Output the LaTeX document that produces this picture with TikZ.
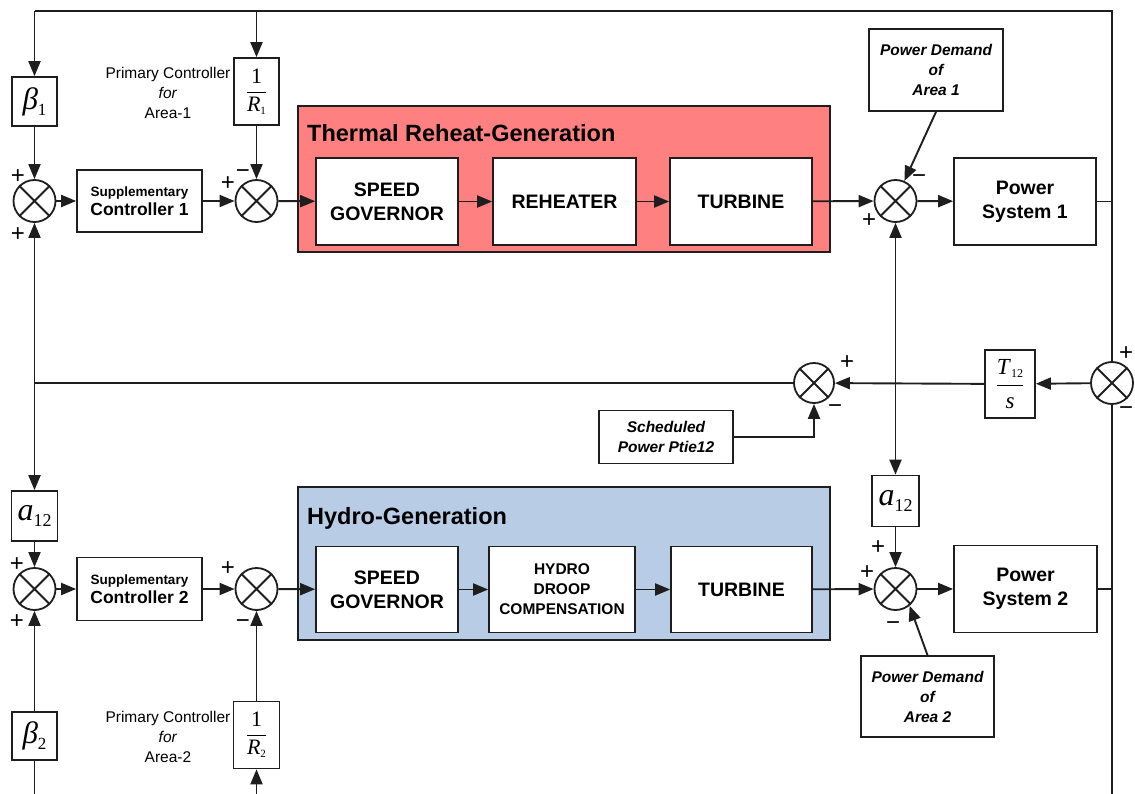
\documentclass[tikz,border=0pt]{standalone}
\usepackage{fontspec}
\setmainfont{Liberation Sans}
\newfontfamily\tms{Liberation Serif}
\usetikzlibrary{arrows.meta,calc}

\definecolor{thermalred}{RGB}{255,128,128}
\definecolor{hydroblue}{RGB}{184,204,230}
\definecolor{ink}{RGB}{30,30,30}

\tikzset{
  wire/.style={line width=1.9pt, draw=ink},
  arr/.style={wire, -{Triangle[length=15pt,width=12pt]}},
  biarr/.style={wire, {Triangle[length=15pt,width=12pt]}-{Triangle[length=15pt,width=12pt]}},
  panel/.style={draw=ink, line width=1.7pt},
  blk/.style={draw=ink, line width=1.7pt, fill=white, inner sep=1pt, align=center},
  gbox/.style={draw=ink, line width=1.7pt, fill=white, inner sep=0pt, align=center},
  sumj/.style={circle, draw=ink, line width=1.8pt, fill=white, minimum size=42pt, inner sep=0pt},
  sgn/.style={inner sep=0pt, font=\fontsize{24}{24}\selectfont},
  lbl/.style={align=center, inner sep=0pt, font=\fontsize{15.5}{20}\selectfont},
  big/.style={font=\bfseries\fontsize{19.5}{24}\selectfont},
  dem/.style={font=\bfseries\itshape\fontsize{15.5}{20}\selectfont},
  ttl/.style={anchor=west, inner sep=0pt, font=\bfseries\fontsize{23.5}{28}\selectfont},
}

\newcommand{\supctl}[1]{{\fontsize{13.5}{15}\selectfont Supplementary}\\[2pt]{\fontsize{17.5}{20}\selectfont Controller #1}}
\newcommand{\gainbeta}[1]{\tms\fontsize{31}{31}\selectfont\itshape β\/\lower6pt\hbox{\upshape\fontsize{17}{17}\selectfont #1}}
\newcommand{\gaina}{\tms\fontsize{32}{32}\selectfont\itshape a\/\lower6pt\hbox{\upshape\fontsize{18}{18}\selectfont 12}}
\newcommand{\droop}[1]{\tms\fontsize{22}{22}\selectfont$\displaystyle\frac{\hbox{\kern2pt 1\kern2pt}}{\hbox{\itshape R\/\lower3pt\hbox{\upshape\fontsize{11}{11}\selectfont #1}}}$}
\newcommand{\tieT}{\tms\fontsize{23}{23}\selectfont$\displaystyle\frac{\hbox{\itshape T\/\lower3pt\hbox{\upshape\fontsize{12}{12}\selectfont 12}}}{\hbox{\itshape s}}$}

\begin{document}
\begin{tikzpicture}[x=1pt,y=-1pt]
\useasboundingbox (0,0) rectangle (1135,794);

% generation panels
\draw[panel, fill=thermalred] (298,106) rectangle (830,252);
\node[ttl] (ttlA) at (307,133) {Thermal Reheat-Generation};
\draw[panel, fill=hydroblue] (298,487) rectangle (830,640);
\node[ttl] (ttlB) at (307,518) {Hydro-Generation};

% ---------------- Area 1 ----------------
\node[gbox, minimum width=45pt, minimum height=49pt] (b1) at (34.5,101.5) {\gainbeta{1}};
\node[gbox, minimum width=45pt, minimum height=67pt] (r1) at (256.5,91.5) {\droop{1}};
\node[lbl] (pc1) at (168,93) {Primary Controller\\\textit{for}\\Area-1};
\node[sumj] (sum1) at (34.5,201) {};
\node[blk, font=\bfseries, minimum width=125pt, minimum height=62pt] (sup1) at (139.5,201) {\supctl{1}};
\node[sumj] (sum2) at (256.5,201) {};
\node[blk, big, minimum width=142pt, minimum height=87pt] (sg1) at (387,201.5) {SPEED\\GOVERNOR};
\node[blk, big, minimum width=143pt, minimum height=87pt] (reh) at (564.5,201.5) {REHEATER};
\node[blk, big, minimum width=142pt, minimum height=87pt] (tur1) at (741,201.5) {TURBINE};
\node[sumj] (sum3) at (895.5,201) {};
\node[blk, dem, minimum width=134pt, minimum height=82pt] (pd1) at (936,70) {Power Demand\\of\\Area 1};
\node[blk, big, minimum width=142pt, minimum height=87pt] (ps1) at (1025,201.5) {Power\\System 1};

% ---------------- tie line ----------------
\node[sumj, minimum size=40pt] (sum4) at (814,383) {};
\node[blk, dem, minimum width=134pt, minimum height=53pt] (sched) at (666,437) {Scheduled\\Power Ptie12};
\node[gbox, minimum width=50pt, minimum height=68pt] (t12) at (1010,384) {\tieT};
\node[sumj] (sum5) at (1112,383) {};

% ---------------- Area 2 ----------------
\node[gbox, minimum width=46pt, minimum height=50pt] (a1) at (34.5,516) {\gaina};
\node[sumj] (sum6) at (34.5,589) {};
\node[blk, font=\bfseries, minimum width=125pt, minimum height=63pt] (sup2) at (139.5,589) {\supctl{2}};
\node[sumj] (sum7) at (256.5,589) {};
\node[gbox, minimum width=45pt, minimum height=48pt] (b2) at (34.5,736) {\gainbeta{2}};
\node[gbox, minimum width=46pt, minimum height=67pt] (r2) at (256.5,735) {\droop{2}};
\node[lbl] (pc2) at (168,737) {Primary Controller\\\textit{for}\\Area-2};
\node[blk, big, minimum width=142pt, minimum height=86pt] (sg2) at (387,589.5) {SPEED\\GOVERNOR};
\node[blk, font=\bfseries\fontsize{15.5}{20}\selectfont, minimum width=146pt, minimum height=86pt] (hdc) at (562,589.5) {HYDRO\\DROOP\\COMPENSATION};
\node[blk, big, minimum width=141pt, minimum height=86pt] (tur2) at (741.5,589.5) {TURBINE};
\node[gbox, minimum width=47pt, minimum height=51pt] (a2) at (895.5,501) {\gaina};
\node[sumj] (sum8) at (895.5,589) {};
\node[blk, dem, minimum width=133pt, minimum height=81pt] (pd2) at (927.5,696.5) {Power Demand\\of\\Area 2};
\node[blk, big, minimum width=143pt, minimum height=87pt] (ps2) at (1025.5,589) {Power\\System 2};

% crosses inside the summing junctions
\foreach \s in {sum1,sum2,sum3,sum4,sum5,sum6,sum7,sum8}
  \draw[wire] (\s.north east) -- (\s.south west) (\s.north west) -- (\s.south east);

% frame corners of the feedback paths
\coordinate (tl) at (34.5,11);
\coordinate (tr) at (1112,11);
\coordinate (tm) at (256.5,11);
\coordinate (tj) at (34.5,383);
\coordinate (br) at (1112,794);
\coordinate (bl) at (34.5,794);
\coordinate (bm) at (256.5,794);

% area 1 signal path
\draw[wire] (sum5.north) -- (tr) -- (tl);
\draw[arr] (tl) -- (b1.north);
\draw[arr] (tm) -- (r1.north);
\draw[arr] (b1) -- (sum1);
\draw[arr] (sum1) -- (sup1);
\draw[arr] (sup1) -- (sum2);
\draw[arr] (r1) -- (sum2);
\draw[arr] (sum2) -- (sg1);
\draw[arr] (sg1) -- (reh);
\draw[arr] (reh) -- (tur1);
\draw[arr] (tur1) -- (sum3);
\draw[arr] (pd1.south) -- (sum3.66);
\draw[arr] (sum3) -- (ps1);
\draw[wire] (ps1.east) -- (ps1.east -| tr);

% tie-line path
\draw[arr] (sum5) -- (t12);
\draw[arr] (t12) -- (sum4);
\draw[wire] (sum4.west) -- (tj);
\draw[arr] (sched.east) -| (sum4.south);
\draw[biarr] (sum1.south) -- (a1.north);
\draw[biarr] (sum3.south) -- (a2.north);
\draw[wire] (sum5.south) -- (br);

% area 2 signal path
\draw[arr] (a1) -- (sum6);
\draw[arr] (b2) -- (sum6);
\draw[wire] (b2.south) -- (bl);
\draw[arr] (sum6) -- (sup2);
\draw[arr] (sup2) -- (sum7);
\draw[arr] (r2) -- (sum7);
\draw[arr] (bm) -- (r2.south);
\draw[arr] (sum7) -- (sg2);
\draw[arr] (sg2) -- (hdc);
\draw[arr] (hdc) -- (tur2);
\draw[arr] (tur2) -- (sum8);
\draw[arr] (a2) -- (sum8);
\draw[arr] (pd2.north) -- (sum8.-50);
\draw[arr] (sum8) -- (ps2);
\draw[wire] (ps2.east) -- (ps2.east -| br);

% signs at the summing junctions
\node[sgn] (s1a) at (18,177) {+};
\node[sgn] (s1b) at (18,235) {+};
\node[sgn] (s2a) at (228,184) {+};
\node[sgn] (s2b) at (243,174) {−};
\node[sgn] (s3a) at (919,179) {−};
\node[sgn] (s3b) at (869,221) {+};
\node[sgn] (s4a) at (847,363) {+};
\node[sgn] (s4b) at (835,409) {−};
\node[sgn] (s5a) at (1126,354) {+};
\node[sgn] (s5b) at (1126,411) {−};
\node[sgn] (s6a) at (17,565) {+};
\node[sgn] (s6b) at (17,622) {+};
\node[sgn] (s7a) at (228,569) {+};
\node[sgn] (s7b) at (243,624) {−};
\node[sgn] (s8a) at (878,548) {+};
\node[sgn] (s8b) at (867,573) {+};
\node[sgn] (s8c) at (893,626) {−};
\end{tikzpicture}
\end{document}
